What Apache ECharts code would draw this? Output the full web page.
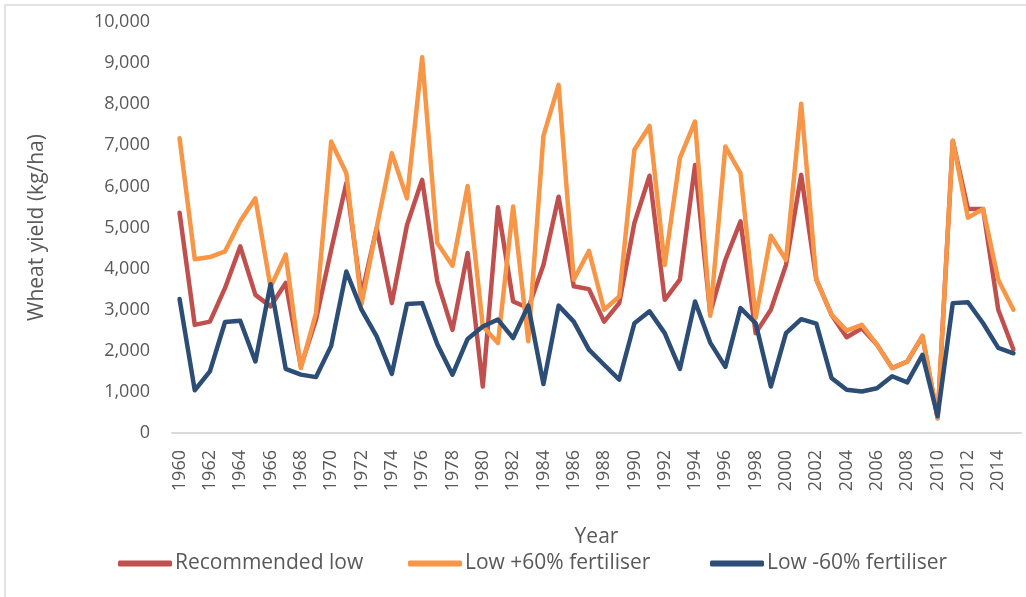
<!DOCTYPE html>
<html>
<head>
<meta charset="utf-8">
<script src="https://cdn.jsdelivr.net/npm/echarts@6/dist/echarts.min.js"></script>
<style>
  html, body { margin: 0; padding: 0; background: #fff; }
  #chart { width: 1026px; height: 597px; }
</style>
</head>
<body>
<div id="chart"></div>
<script>
// years 1960-2015
const years = [];
for (let y = 1960; y <= 2015; y++) years.push(String(y));

// wheat yield (kg/ha)
const recommendedLow = [
  5360, 2630, 2710, 3530, 4540, 3360, 3080, 3650, 1620, 2760,
  4460, 6080, 3350, 4980, 3160, 5060, 6160, 3690, 2510, 4380,
  1130, 5490, 3200, 3040, 4090, 5750, 3570, 3500, 2710, 3160,
  5110, 6260, 3240, 3730, 6520, 2920, 4210, 5150, 2430, 3000,
  4090, 6280, 3730, 2880, 2330, 2550, 2150, 1580, 1740, 2350,
  360, 7110, 5450, 5450, 3000, 2030
];
const lowPlus60 = [
  7170, 4230, 4280, 4420, 5150, 5710, 3550, 4340, 1580, 2920,
  7090, 6320, 3140, 5000, 6810, 5710, 9140, 4620, 4070, 6010,
  2600, 2190, 5510, 2230, 7230, 8470, 3730, 4430, 3000, 3320,
  6890, 7470, 4090, 6690, 7580, 2850, 6970, 6320, 2800, 4800,
  4210, 8010, 3730, 2880, 2490, 2630, 2150, 1580, 1740, 2370,
  360, 7110, 5240, 5450, 3730, 3000
];
const lowMinus60 = [
  3260, 1040, 1500, 2700, 2730, 1740, 3620, 1560, 1420, 1360,
  2120, 3930, 3000, 2350, 1440, 3140, 3160, 2160, 1420, 2290,
  2590, 2760, 2310, 3100, 1190, 3100, 2710, 2030, 1660, 1300,
  2670, 2960, 2430, 1560, 3200, 2200, 1610, 3040, 2670, 1130,
  2430, 2770, 2660, 1340, 1050, 1010, 1090, 1380, 1230, 1900,
  410, 3160, 3180, 2670, 2070, 1940
];

const seriesNames = ['Recommended low', 'Low +60% fertiliser', 'Low -60% fertiliser'];
const seriesColors = ['#C0504D', '#F79646', '#2C4D75'];
const seriesData = [recommendedLow, lowPlus60, lowMinus60];
const legendLefts = [118, 408, 710];

const textColor = '#595959';
const fontFam = "'Open Sans', 'Liberation Sans', sans-serif";

const chart = echarts.init(document.getElementById('chart'));

chart.setOption({
  animation: false,
  textStyle: { fontFamily: fontFam },
  graphic: [
    {
      type: 'rect',
      shape: { x: 5, y: 5, width: 1040, height: 620 },
      style: { fill: 'none', stroke: '#D9D9D9', lineWidth: 1.5 },
      silent: true
    }
  ],
  grid: { left: 172, right: 5, top: 22, bottom: 164 },
  // one legend per entry so each can sit where the original has it
  legend: seriesNames.map((name, i) => ({
    left: legendLefts[i],
    top: 553,
    padding: 0,
    itemWidth: 54,
    itemHeight: 6,
    itemGap: 4,
    icon: 'roundRect',
    textStyle: { color: textColor, fontSize: 21, fontFamily: fontFam, padding: [0, 0, 0, -2] },
    data: [name]
  })),
  xAxis: {
    type: 'category',
    data: years,
    boundaryGap: true,
    name: 'Year',
    nameLocation: 'middle',
    nameGap: 94,
    nameTextStyle: { color: textColor, fontSize: 21, fontFamily: fontFam },
    axisLine: { lineStyle: { color: '#D9D9D9', width: 2 } },
    axisTick: { show: false },
    axisLabel: {
      interval: 1,
      rotate: 90,
      margin: 17,
      color: textColor,
      fontSize: 18,
      fontFamily: fontFam
    },
    splitLine: { show: false }
  },
  yAxis: {
    type: 'value',
    min: 0,
    max: 10000,
    interval: 1000,
    name: 'Wheat yield (kg/ha)',
    nameLocation: 'middle',
    nameRotate: 90,
    nameGap: 124,
    nameTextStyle: { color: textColor, fontSize: 21, fontFamily: fontFam },
    axisLine: { show: false },
    axisTick: { show: false },
    splitLine: { show: false },
    axisLabel: {
      margin: 22,
      color: textColor,
      fontSize: 18,
      fontFamily: fontFam,
      formatter: v => v.toLocaleString('en-US')
    }
  },
  series: seriesNames.map((name, i) => ({
    name: name,
    type: 'line',
    data: seriesData[i],
    symbol: 'none',
    lineStyle: { color: seriesColors[i], width: 4.5, cap: 'round', join: 'round' },
    itemStyle: { color: seriesColors[i] }
  }))
});
</script>
</body>
</html>
